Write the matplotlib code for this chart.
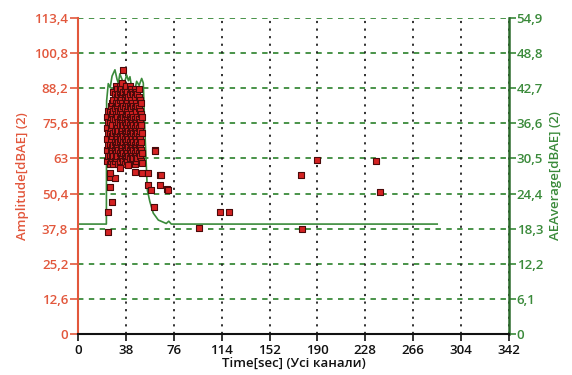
import matplotlib
matplotlib.use('Agg')
import matplotlib.pyplot as plt
import numpy as np

plt.rcParams['font.family'] = ['Open Sans', 'DejaVu Sans']

# axis ticks
x_ticks = [0, 38, 76, 114, 152, 190, 228, 266, 304, 342]
amp_ticks = [0, 12.6, 25.2, 37.8, 50.4, 63, 75.6, 88.2, 100.8, 113.4]
amp_labels = ['0', '12,6', '25,2', '37,8', '50,4', '63', '75,6', '88,2', '100,8', '113,4']
avg_ticks = [0, 6.1, 12.2, 18.3, 24.4, 30.5, 36.6, 42.7, 48.8, 54.9]
avg_labels = ['0', '6,1', '12,2', '18,3', '24,4', '30,5', '36,6', '42,7', '48,8', '54,9']

# dense burst of hits, one column of amplitudes per time
cluster_cols = [
    (23, [62, 66, 70, 74, 78]),
    (24, [64, 68, 72, 76, 80]),
    (25, [61, 64, 68, 72, 76, 80, 57]),
    (26, [62, 66, 70, 74, 78, 82]),
    (27, [63, 65, 67, 71, 75, 79, 83]),
    (28, [61, 64, 68, 72, 77, 80, 84, 87]),
    (29, [62, 66, 69, 73, 77, 81, 86]),
    (30, [63, 65, 68, 71, 75, 79, 83, 89]),
    (31, [64, 67, 70, 72, 74, 78, 82, 85, 88]),
    (32, [61, 66, 69, 73, 76, 80, 83, 86]),
    (33, [62, 65, 69, 71, 75, 77, 80, 84, 87, 89]),
    (34, [64, 67, 70, 73, 78, 81, 85, 88]),
    (35, [63, 66, 68, 72, 74, 76, 79, 83, 86, 90]),
    (36, [62, 65, 69, 71, 75, 78, 82, 87]),
    (37, [61, 64, 67, 70, 73, 76, 78, 81, 85, 88]),
    (38, [63, 66, 69, 72, 75, 79, 83, 86, 89]),
    (39, [62, 65, 68, 71, 74, 77, 80, 84, 87]),
    (40, [64, 67, 70, 73, 76, 79, 82, 85]),
    (41, [63, 66, 69, 72, 75, 78, 82, 86, 89]),
    (42, [61, 65, 68, 71, 74, 77, 81, 84, 88]),
    (43, [62, 64, 67, 70, 73, 76, 79, 83, 87]),
    (44, [63, 66, 69, 72, 75, 78, 82, 86]),
    (45, [61, 65, 68, 71, 74, 77, 81, 85, 88]),
    (46, [62, 64, 67, 70, 73, 76, 80, 83, 87]),
    (47, [63, 66, 69, 72, 75, 78, 82, 86]),
    (48, [65, 68, 71, 74, 77, 81, 85, 88]),
    (49, [64, 67, 70, 73, 76, 80, 84]),
    (50, [62, 66, 69, 75, 79, 83]),
    (51, [65, 72, 78]),
]

# separate hits
hit_t = [36, 33.3, 45, 50.5, 55.8, 61, 65, 65, 70.8, 55.8, 57.9, 60.5, 26.7, 24, 24,
         25.4, 25.4, 29.3, 25.4, 39.9, 50.5, 60.8, 66, 71.6, 96, 112.6, 119.7,
         176.8, 177.9, 190, 236.3, 239.5]
hit_amp = [94.8, 59.5, 58.3, 57.7, 57.7, 66, 57, 53.5, 52, 53.5, 51.5, 45.5, 47.5, 43.9, 36.7,
           56.5, 52.9, 55.9, 57.8, 60.7, 61.3, 65.7, 57, 51.7, 38, 43.9, 43.9,
           57, 37.6, 62.5, 62, 51.1]

# AE average curve (right axis)
avg_t = [0, 22.5, 22.7, 24, 25.5, 27, 29.3, 31, 32, 33.2, 34.6, 36.5, 38.6, 40,
         41.2, 42.5, 43.9, 45.2, 46.5, 48.5, 50.5, 51.8, 53, 55, 57, 59.7, 63.7,
         70, 72, 74, 285]
avg_val = [19.1, 19.1, 40.5, 43.5, 42.8, 44.8, 45.9, 44.2, 43.6, 45.2, 44.4, 43.4, 45.0, 44.0,
           44.7, 42.9, 43.0, 42.5, 43.9, 43.2, 44.4, 43.6, 35.5, 25, 23, 21, 19.8,
           19.2, 19.6, 19.1, 19.1]

red = '#e2573c'
green = '#3a8a3a'
dgreen = '#2c6a2c'

fig = plt.figure(figsize=(5.72, 3.75), dpi=100)
ax = fig.add_axes([0.1364, 0.1093, 0.7535, 0.8427])
ax2 = ax.twinx()

ax.set_xlim(0, 342)
ax.set_ylim(0, 113.4)
ax2.set_ylim(0, 54.9)

ax.set_zorder(ax2.get_zorder() + 1)
ax.patch.set_visible(False)

# grid
for y in amp_ticks[1:]:
    ax2.axhline(y * 54.9 / 113.4, color=green, lw=1.3, ls=(0, (3, 3)), zorder=0)
for x in x_ticks[1:]:
    ax2.axvline(x, color='#222222', lw=1.3, ls=(0, (1.2, 3)), zorder=0)

ax2.plot(avg_t, avg_val, color=green, lw=1.2, zorder=2)

ct = []
ca = []
for t, amps in cluster_cols:
    for a in amps:
        ct.append(t)
        ca.append(a)
ax.scatter(ct + hit_t, ca + hit_amp, marker='s', s=22, c='#d42222',
           edgecolors='#4a0a0a', linewidths=0.8, zorder=3)

ax.set_xticks(x_ticks)
ax.set_xticklabels([str(v) for v in x_ticks])
ax.set_yticks(amp_ticks)
ax.set_yticklabels(amp_labels)
ax2.set_yticks(avg_ticks)
ax2.set_yticklabels(avg_labels)

lab = dict(fontsize=9.5, fontweight='semibold')
ax.tick_params(axis='y', colors=red, labelsize=9.5, length=6, width=1.2, direction='out', pad=1)
ax.tick_params(axis='x', colors='#111111', labelsize=9.5, length=5, width=1.2, direction='out', pad=2)
ax2.tick_params(axis='y', colors=green, labelsize=9.5, length=5, width=1.2, direction='out', pad=0.5)
for t in ax.get_yticklabels() + ax.get_xticklabels() + ax2.get_yticklabels():
    t.set_fontweight('semibold')

for a in (ax, ax2):
    a.spines['top'].set_visible(False)
ax.spines['left'].set_color(red)
ax.spines['left'].set_linewidth(1.5)
ax.spines['bottom'].set_color('#111111')
ax.spines['bottom'].set_linewidth(1.5)
ax.spines['right'].set_visible(False)
ax2.spines['left'].set_visible(False)
ax2.spines['bottom'].set_visible(False)
ax2.spines['right'].set_color(dgreen)
ax2.spines['right'].set_linewidth(1.8)

ax.set_ylabel('Amplitude[dBAE] (2)', color=red, labelpad=4, **lab)
ax2.set_ylabel('AEAverage[dBAE] (2)', color=green, labelpad=4, **lab)
ax.set_xlabel('Time[sec] (Усі канали)', color='#111111', labelpad=0, **lab)

# chart title, cut off at the top edge as in the source image
fig.text(0.53, 1.022, 'Amplitude[dBAE] (Усі канали)', ha='center', va='center',
         color='#222222', **lab)

fig.savefig('out.png', dpi=100)
